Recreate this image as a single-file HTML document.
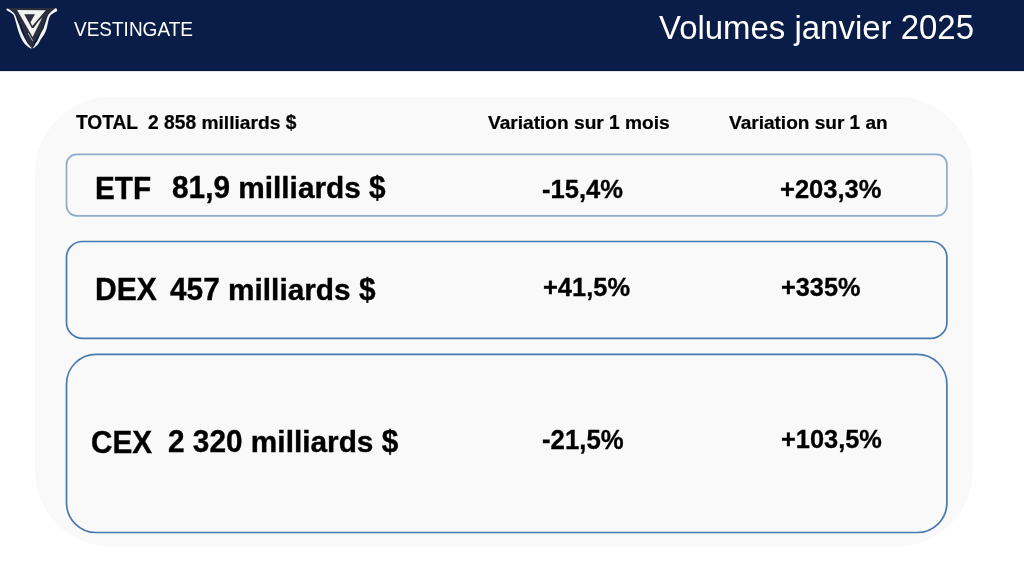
<!DOCTYPE html>
<html>
<head>
<meta charset="utf-8">
<style>
html,body{margin:0;padding:0;}
body{width:1024px;height:576px;position:relative;overflow:hidden;background:#ffffff;font-family:"Liberation Sans",sans-serif;}
.hdr{position:absolute;left:0;top:0;width:1024px;height:71px;background:#0a1d48;}
.hdr:after{content:"";position:absolute;left:0;right:0;top:70px;height:1px;background:#061538;}
.hdr:before{content:"";position:absolute;left:0;right:0;top:71px;height:1px;background:#e4e5ea;}
.t{position:absolute;white-space:pre;line-height:1;will-change:transform;}
.t .c{display:inline-block;transform:scaleY(1.042);transform-origin:0 0.8467em;}
.b{font-weight:bold;}
.k{color:#000;-webkit-text-stroke:0.012em #000;}
.w{color:#fff;}
</style>
</head>
<body>
<div class="hdr"></div>
<svg style="position:absolute;left:0;top:0" width="64" height="56" viewBox="0 0 64 56">
  <path d="M9 8.1 L55.4 8.1 L51.3 11.2 L48.3 13.6 L46.9 16 L45.8 18.5 L44.6 21.5 L43.5 25 L42 28.7 L40.2 32.5 L37.5 36.5 L35.2 40.5 L33.8 44 L32 50.3 L29.3 44.5 L27.3 41 L25.6 37 L24.4 33.5 L23 29.5 L21.8 26 L20.2 23 L18.75 20 L17.3 16.8 L16 14 L15.2 13 L12 10.4 L9.2 8.6 Z" fill="#2c2e3a"/>
  <path d="M6.3 9.4 L7 10.5 L10.2 12.2 L13.1 14.3 L14.2 16.6 L15.2 20 L16.1 23 L16.9 26 L18 30 L19.2 33.5 L20.8 37.5 L22.6 41 L25 44.2 L27.6 46.6 L31 48.7 L31.6 48 L29.6 45.8 L27.6 43.5 L26.2 41 L24.2 37.5 L22.3 33.5 L20.8 30 L19.5 26 L18.3 23 L17.1 20 L16 16.8 L14.8 14 L13.8 12.9 L11 10.6 L8.2 8.8 L7 8.6 Z" fill="#f5f5f5"/>
  <path d="M56.6 8.6 L57.3 10.9 L54.5 12.6 L52.1 14 L50.3 15.6 L49.3 17.5 L48.7 19.5 L48.2 21.5 L47.6 24.5 L46.6 28.7 L45.4 32 L44.2 34.5 L42.8 36.5 L40.8 39.3 L38.3 44 L36 46.3 L33.3 48.4 L33 47.7 L34.2 46 L35.2 44 L37.2 41.2 L39.4 36.5 L41 33 L42.3 30.5 L43.5 28.7 L44.5 25.5 L45.9 21.5 L46.6 19 L47.5 16.4 L48.5 14.6 L51.3 11.4 L55.4 8.3 Z" fill="#f5f5f5"/>
  <path d="M17.1 9.9 L45.9 10.3 L32.6 36.9 Z" fill="#f3f3f3"/>
  <path d="M24.2 14.2 L35 14.2 L30.5 22.2 L32.3 26.1 L45.6 10.4 L48.6 10.2 L43.6 16.8 L41.6 18.3 L38.3 21.5 L35.8 25 L33.6 28.1 L31.8 28.1 Z" fill="#2c2e3a"/>
  <path d="M28.2 33 L32.6 40.8" stroke="#d8d8dc" stroke-width="0.8"/>
</svg>

<svg style="position:absolute;left:0;top:0" width="1024" height="576" viewBox="0 0 1024 576">
  <rect x="35" y="96.9" width="937.8" height="449.6" rx="76" ry="76" fill="#f9f9f9"/>
  <rect x="66.5" y="154.4" width="880.4" height="61.4" rx="10.2" ry="10.2" fill="#f9f9f9" stroke="#8eacca" stroke-width="1.7"/>
  <rect x="66.5" y="241.5" width="880.4" height="96.9" rx="16" ry="16" fill="#f9f9f9" stroke="#467ab0" stroke-width="1.7"/>
  <rect x="66.5" y="354.3" width="880.4" height="178.2" rx="29.7" ry="29.7" fill="#f9f9f9" stroke="#467ab0" stroke-width="1.7"/>
</svg>

<div class="t  w" style="left:73.659px;top:20.37px;font-size:19.008px;"><span class="c">VESTINGATE</span></div>
<div class="t  w" style="left:658.742px;top:12.07px;font-size:32.957px;">Volumes janvier <span class="c" style="transform:scaleY(1.06)">2025</span></div>
<div class="t b k" style="left:75.617px;top:112.84px;font-size:19.167px;"><span class="c">TOTAL</span></div>
<div class="t b k" style="left:147.739px;top:112.76px;font-size:19.211px;"><span class="c">2</span> <span class="c">858</span> milliards <span class="c">$</span></div>
<div class="t b k" style="left:487.611px;top:113.31px;font-size:19.116px;">Variation sur <span class="c">1</span> mois</div>
<div class="t b k" style="left:729.117px;top:113.42px;font-size:19.05px;">Variation sur <span class="c">1</span> an</div>
<div class="t b k" style="left:95.06px;top:174.3px;font-size:29.693px;"><span class="c">ETF</span></div>
<div class="t b k" style="left:171.538px;top:173.41px;font-size:29.812px;"><span class="c">81,9</span> milliards <span class="c">$</span></div>
<div class="t b k" style="left:541.72px;top:176.7px;font-size:25.586px;"><span class="c">-15,4%</span></div>
<div class="t b k" style="left:779.528px;top:176.7px;font-size:25.546px;"><span class="c">+203,3%</span></div>
<div class="t b k" style="left:94.684px;top:275.3px;font-size:30.07px;"><span class="c">DEX</span></div>
<div class="t b k" style="left:169.519px;top:275.3px;font-size:29.823px;"><span class="c">457</span> milliards <span class="c">$</span></div>
<div class="t b k" style="left:542.528px;top:274.52px;font-size:25.478px;"><span class="c">+41,5%</span></div>
<div class="t b k" style="left:780.538px;top:275.32px;font-size:25.311px;"><span class="c">+335%</span></div>
<div class="t b k" style="left:90.621px;top:427.66px;font-size:29.683px;"><span class="c">CEX</span></div>
<div class="t b k" style="left:167.509px;top:426.55px;font-size:29.809px;"><span class="c">2</span> <span class="c">320</span> milliards <span class="c">$</span></div>
<div class="t b k" style="left:541.72px;top:428.41px;font-size:25.771px;"><span class="c">-21,5%</span></div>
<div class="t b k" style="left:780.528px;top:426.58px;font-size:25.389px;"><span class="c">+103,5%</span></div>
</body>
</html>
